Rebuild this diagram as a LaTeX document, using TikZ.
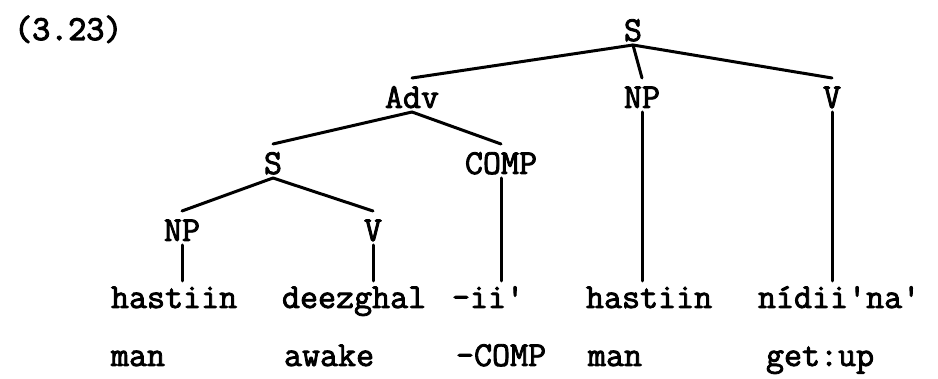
\documentclass[tikz,border=0pt]{standalone}
\usepackage{fontspec}
\newfontfamily\tw[FakeBold=2.4]{Latin Modern Mono}
\newfontfamily\twb[FakeBold=3.2]{Latin Modern Mono}
\begin{document}
\begin{tikzpicture}[x=1pt,y=-1pt,
  every node/.style={font=\tw\fontsize{35}{35}\selectfont},
  lab/.style={inner sep=0pt, outer sep=3pt, text height=27pt, text depth=1pt, anchor=base},
  word/.style={inner sep=0pt, outer sep=6pt, text height=21pt, text depth=0pt, anchor=base west},
  edge/.style={line width=3pt, line cap=round}]
\useasboundingbox (0,0) rectangle (938,379);
\node[anchor=base west, inner sep=0pt, font=\twb\fontsize{35}{35}\selectfont] (num) at (14,40) {(3.23)};
% tree labels
\node[lab] (s1) at (633,41) {S};
\node[lab] (adv) at (412,108) {Adv};
\node[lab] (np1) at (642,108) {NP};
\node[lab] (v1) at (832,108) {V};
\node[lab] (s2) at (273,174) {S};
\node[lab] (comp) at (501,174) {COMP};
\node[lab] (np2) at (182,241) {NP};
\node[lab] (v2) at (373,241) {V};
% words
\node[word] (w1) at (105,308) {hastiin};
\node[word] (w2) at (276,308) {deezghal};
\node[word] (w3) at (446,308) {-ii'};
\node[word] (w4) at (580,308) {hastiin};
\node[word] (w5) at (752,308) {nídii'na'};
% glosses
\node[word] (g1) at (105,366) {man};
\node[word] (g2) at (278,366) {awake};
\node[word] (g3) at (450,366) {-COMP};
\node[word] (g4) at (582,366) {man};
\node[word] (g5) at (760,366) {get:up};
% connectors
\draw[edge] (s1.south) -- (adv.north);
\draw[edge] (s1.south) -- (np1.north);
\draw[edge] (s1.south) -- (v1.north);
\draw[edge] (adv.south) -- (s2.north);
\draw[edge] (adv.south) -- (comp.north);
\draw[edge] (s2.south) -- (np2.north);
\draw[edge] (s2.south) -- (v2.north);
\draw[edge] (np2.south) -- (np2.south |- w1.north);
\draw[edge] (v2.south) -- (v2.south |- w2.north);
\draw[edge] (comp.south) -- (comp.south |- w3.north);
\draw[edge] (np1.south) -- (np1.south |- w4.north);
\draw[edge] (v1.south) -- (v1.south |- w5.north);
\end{tikzpicture}
\end{document}
